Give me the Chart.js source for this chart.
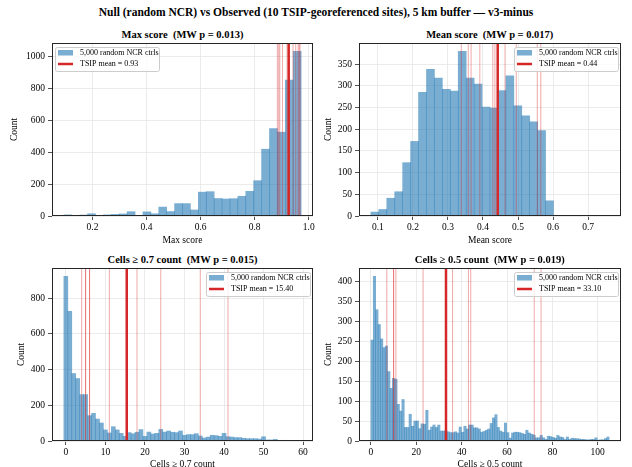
<!DOCTYPE html>
<html>
<head>
<meta charset="utf-8">
<script src="https://cdn.jsdelivr.net/npm/chart.js@4.4.1/dist/chart.umd.min.js"></script>
<style>
  body { margin: 0; background: #fff; }
  #fig { position: relative; width: 632px; height: 467px; overflow: hidden;
         font-family: "Liberation Serif", "DejaVu Serif", serif; color: #000; }
  .t { position: absolute; transform: translate(-50%, -50%); white-space: pre; font-weight: bold; }
  canvas { position: absolute; }
</style>
</head>
<body>
<div id="fig">
  <div class="t" style="left:316px;top:12px;font-size:11.5px">Null (random NCR) vs Observed (10 TSIP-georeferenced sites), 5 km buffer — v3-minus</div>
</div>
<script>
// ---- data ----
// histogram bin range [lo, hi] and counts per bin, observed site values, mean

const maxScoreRange = [0.094, 0.972];
const maxScoreCounts = [7, 4, 6, 14, 1, 7, 10, 13, 27, 2, 26, 14, 56, 28, 78, 78, 38, 150, 153, 110,
    107, 109, 124, 155, 222, 420, 550, 527, 855, 1036];
const maxScoreSites = [0.884, 0.889, 0.893, 0.903, 0.92, 0.942, 0.952, 0.961, 0.965, 0.968];
const maxScoreMean = 0.926;

const meanScoreRange = [0.08, 0.76];
const meanScoreCounts = [9, 15, 41, 56, 123, 172, 285, 338, 318, 292, 288, 380, 318, 304, 251, 249, 289, 323, 254, 231,
    217, 197, 35, 0, 0, 0, 0, 0, 0, 1];
const meanScoreSites = [0.338, 0.358, 0.366, 0.391, 0.428, 0.434, 0.463, 0.495, 0.555, 0.565];
const meanScoreMean = 0.442;

const cells07Range = [-0.5, 59.5];
const cells07Counts = [923, 727, 378, 350, 260, 260, 142, 155, 123, 101,
    62, 45, 80, 62, 43, 26, 47, 41, 49, 64,
    26, 50, 39, 43, 65, 50, 56, 49, 47, 56,
    32, 36, 36, 41, 28, 17, 22, 32, 30, 26,
    43, 24, 22, 19, 19, 15, 13, 13, 13, 11,
    24, 6, 6, 9, 2, 4, 1, 0, 1, 1];
const cells07Sites = [4, 5, 5, 6, 6, 11, 18, 24, 34, 41];
const cells07Mean = 15.4;

const cells05Range = [0, 105];
const cells05Counts = [253, 413, 329, 292, 256, 234, 238, 174, 132, 157,
    155, 92, 75, 104, 34, 34, 67, 37, 50, 50,
    31, 43, 42, 77, 27, 35, 40, 34, 40, 25,
    25, 25, 23, 21, 21, 23, 20, 35, 22, 37,
    30, 40, 40, 33, 33, 30, 22, 24, 27, 30,
    44, 58, 66, 34, 25, 22, 45, 21, 7, 20,
    22, 22, 21, 19, 17, 27, 20, 17, 15, 8,
    8, 14, 8, 4, 12, 11, 9, 7, 14, 10,
    9, 4, 10, 4, 7, 6, 6, 5, 4, 4,
    3, 3, 4, 4, 8, 2, 3, 3, 6, 10];
const cells05Sites = [7, 10, 10, 11, 23, 36, 43, 44, 72, 75];
const cells05Mean = 33.1;

const nullLabel = "5,000 random NCR ctrls";

// ---- layout ----
const Y_W = 52, X_H = 36, PAD = 8;
const BAR = "rgba(31,119,180,0.6)";
const RED = "#d62728";

Chart.defaults.font.family = '"Liberation Serif", "DejaVu Serif", serif';
Chart.defaults.font.size = 9.5;
Chart.defaults.color = "#000";

const panels = [
    { title: "Max score  (MW p = 0.013)", xLabel: "Max score", range: maxScoreRange, counts: maxScoreCounts,
      sites: maxScoreSites, mean: maxScoreMean, xStep: 0.2, yStep: 200, dec: 1, side: "left",
      box: [52, 43, 313, 215.5], yTitleX: 14, xPad: 6.3 },
    { title: "Mean score  (MW p = 0.017)", xLabel: "Mean score", range: meanScoreRange, counts: meanScoreCounts,
      sites: meanScoreSites, mean: meanScoreMean, xStep: 0.1, yStep: 50, dec: 1, side: "right",
      box: [359, 43, 620.5, 215.5], yTitleX: 328, xPad: 6.3 },
    { title: "Cells ≥ 0.7 count  (MW p = 0.015)", xLabel: "Cells ≥ 0.7 count", range: cells07Range, counts: cells07Counts,
      sites: cells07Sites, mean: cells07Mean, xStep: 10, yStep: 200, dec: 0, side: "right",
      box: [52, 267.5, 313, 440.5], yTitleX: 21, xPad: 7.3 },
    { title: "Cells ≥ 0.5 count  (MW p = 0.019)", xLabel: "Cells ≥ 0.5 count", range: cells05Range, counts: cells05Counts,
      sites: cells05Sites, mean: cells05Mean, xStep: 20, yStep: 50, dec: 0, side: "right",
      box: [359, 267.5, 620.5, 440.5], yTitleX: 328, xPad: 7.3 },
];

// frame around the axes + matplotlib-ish legend inside the plot
const frameLegend = {
    id: "frameLegend",
    afterDatasetsDraw(chart, args, opts) {
        const { ctx, chartArea: a } = chart;
        ctx.save();
        ctx.strokeStyle = "#262626";
        ctx.lineWidth = 1;
        ctx.strokeRect(Math.round(a.left) + 0.5, Math.round(a.top) + 0.5,
            Math.round(a.right - a.left) - 1, Math.round(a.bottom - a.top) - 1);

        const w = 104, h = 24;
        const x = opts.side === "left" ? a.left + 3 : a.right - 3 - w;
        const y = a.top + 4;
        ctx.beginPath();
        if (ctx.roundRect) ctx.roundRect(x + 0.5, y + 0.5, w, h, 2);
        else ctx.rect(x + 0.5, y + 0.5, w, h);
        ctx.fillStyle = "rgba(255,255,255,0.8)";
        ctx.fill();
        ctx.strokeStyle = "#cccccc";
        ctx.stroke();

        ctx.fillStyle = BAR;
        ctx.fillRect(x + 3, y + 3, 15, 5.5);
        ctx.strokeStyle = RED;
        ctx.lineWidth = 2.5;
        ctx.beginPath();
        ctx.moveTo(x + 3, y + 17);
        ctx.lineTo(x + 18, y + 17);
        ctx.stroke();

        ctx.fillStyle = "#000";
        ctx.font = '8px "Liberation Serif", serif';
        ctx.textBaseline = "middle";
        ctx.fillText(nullLabel, x + 25, y + 6);
        ctx.fillText(opts.meanLabel, x + 25, y + 17);
        ctx.restore();
    }
};

// ticks at multiples of step inside [min, max]
function stepTicks(step) {
    return (s) => {
        const out = [];
        for (let k = Math.ceil(s.min / step - 1e-9); k * step <= s.max + 1e-9; k++) {
            out.push({ value: Math.round(k * step * 1e6) / 1e6 });
        }
        s.ticks = out;
    };
}

const fig = document.getElementById("fig");

panels.forEach((p) => {
    const [L, T, R, B] = p.box;
    const [lo, hi] = p.range;
    const bw = (hi - lo) / p.counts.length;
    const xPadV = 0.05 * (hi - lo);
    const yMax = Math.max(...p.counts) * 1.05;

    // panel title
    const tt = document.createElement("div");
    tt.className = "t";
    tt.style.left = (L + R) / 2 + "px";
    tt.style.top = (T - 9) + "px";
    tt.style.fontSize = "10.5px";
    tt.textContent = p.title;
    fig.appendChild(tt);

    const canvas = document.createElement("canvas");
    const cw = Math.round(R - L + Y_W + PAD), ch = Math.round(B - T + PAD + X_H);
    canvas.width = cw; canvas.height = ch;
    canvas.style.width = cw + "px"; canvas.style.height = ch + "px";
    canvas.style.left = (L - Y_W) + "px";
    canvas.style.top = (T - PAD) + "px";
    fig.appendChild(canvas);

    const datasets = [{
        type: "bar",
        data: p.counts.map((c, i) => ({ x: lo + (i + 0.5) * bw, y: c })),
        backgroundColor: BAR,
        borderWidth: 0,
        barPercentage: 1,
        categoryPercentage: 1,
        order: 3,
    }];
    p.sites.forEach((v) => datasets.push({
        type: "line",
        data: [{ x: v, y: 0 }, { x: v, y: yMax }],
        borderColor: "rgba(214,39,40,0.4)",
        borderWidth: 1,
        pointRadius: 0,
        order: 2,
    }));
    datasets.push({
        type: "line",
        data: [{ x: p.mean, y: 0 }, { x: p.mean, y: yMax }],
        borderColor: RED,
        borderWidth: 2.5,
        pointRadius: 0,
        order: 1,
    });

    const noPad = (s) => { s.paddingLeft = 0; s.paddingRight = 0; s.paddingTop = 0; s.paddingBottom = 0; };

    new Chart(canvas.getContext("2d"), {
        type: "bar",
        data: { datasets },
        options: {
            responsive: false,
            devicePixelRatio: 1,
            animation: false,
            layout: { padding: { top: PAD, right: PAD, left: 0, bottom: 0 } },
            plugins: {
                legend: { display: false },
                tooltip: { enabled: false },
                frameLegend: { side: p.side, meanLabel: "TSIP mean = " + p.mean.toFixed(2) },
            },
            scales: {
                x: {
                    type: "linear",
                    offset: false,
                    min: lo - xPadV,
                    max: hi + xPadV,
                    afterBuildTicks: stepTicks(p.xStep),
                    afterFit: (s) => { s.height = X_H; noPad(s); },
                    border: { display: false },
                    grid: { color: "#e6e6e6", lineWidth: 0.8, offset: false, tickLength: 4, tickColor: "#262626" },
                    ticks: {
                        autoSkip: false, maxRotation: 0, padding: 2,
                        callback: (v) => v.toFixed(p.dec),
                    },
                    title: { display: true, text: p.xLabel, padding: { top: 0, bottom: p.xPad } },
                },
                y: {
                    min: 0,
                    max: yMax,
                    afterBuildTicks: stepTicks(p.yStep),
                    afterFit: (s) => { s.width = Y_W; noPad(s); },
                    border: { display: false },
                    grid: { color: "#e6e6e6", lineWidth: 0.8, tickLength: 4, tickColor: "#262626" },
                    ticks: { autoSkip: false, padding: 3, callback: (v) => String(v) },
                    title: { display: true, text: "Count", padding: { top: p.yTitleX - (L - Y_W) - 5.7, bottom: 0 } },
                },
            },
        },
        plugins: [frameLegend],
    });
});
</script>
</body>
</html>
